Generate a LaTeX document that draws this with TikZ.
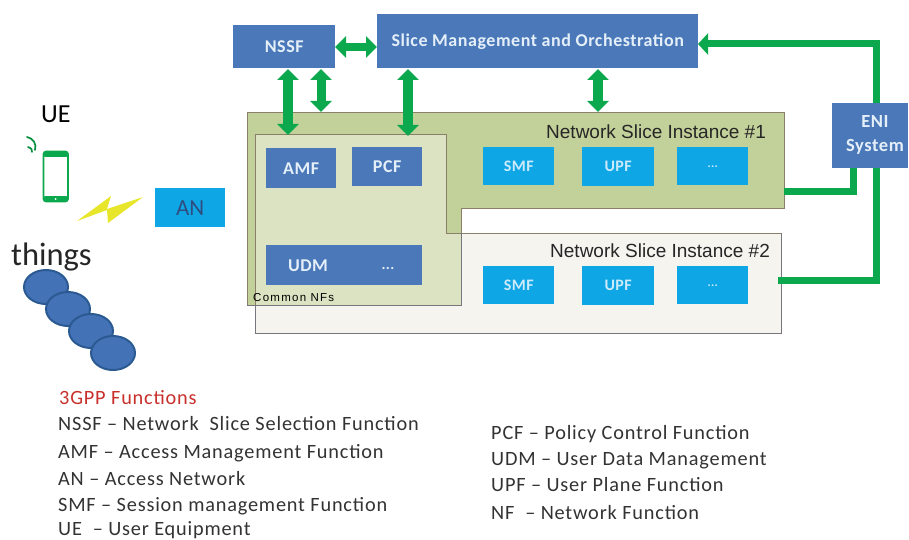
\documentclass[tikz,border=0pt]{standalone}
\usepackage{fontspec}
\setmainfont{Carlito}
\newfontfamily\arialf{Liberation Sans}
\newfontfamily\legendf[LetterSpace=4]{Carlito}
\newfontfamily\smallf[LetterSpace=11]{Liberation Sans}
\newfontfamily\boxf[LetterSpace=3]{Carlito}
\usetikzlibrary{arrows.meta,shapes.geometric}
\definecolor{bluebox}{HTML}{4A78B8}
\definecolor{cyanbox}{HTML}{0FA6E6}
\definecolor{arrgreen}{HTML}{0BA84E}
\definecolor{olive}{HTML}{C2D09A}
\definecolor{lightolive}{HTML}{DCE3C2}
\definecolor{paleslice}{HTML}{F6F4EF}
\definecolor{edgebrown}{HTML}{8A7F68}
\definecolor{edgegrey}{HTML}{77767C}
\definecolor{bluetxt}{HTML}{E4EFF9}
\definecolor{cyantxt}{HTML}{CDEBFA}
\definecolor{thingblue}{HTML}{4472B6}
\definecolor{thingedge}{HTML}{2B5A92}
\definecolor{legred}{HTML}{C8302C}
\definecolor{legtxt}{HTML}{333333}
\definecolor{bolt}{HTML}{E8E62A}
\definecolor{antxt}{HTML}{2F4C80}
\tikzset{
 x=1pt,y=-1pt,
 bbox/.style={fill=bluebox,text=bluetxt,font=\boxf\bfseries\fontsize{18}{20}\selectfont,inner sep=0pt,anchor=north west},
 cbox/.style={fill=cyanbox,text=cyantxt,font=\boxf\bfseries\fontsize{16}{18}\selectfont,inner sep=0pt,anchor=north west},
 biarrow/.style={arrgreen,line width=#1,{Triangle[length=11pt,width=21pt]}-{Triangle[length=11pt,width=21pt]}},
 biarrow/.default=10.5pt,
 oneway/.style={arrgreen,line width=7pt,-{Triangle[length=10pt,width=21pt]}},
 plainlink/.style={arrgreen,line width=7pt},
 slicelabel/.style={font=\arialf\fontsize{19}{21}\selectfont,text=black!85,anchor=base west,inner sep=0pt},
 legend/.style={font=\legendf\fontsize{20.3}{22}\selectfont,text=legtxt,anchor=base west,inner sep=0pt},
 thing/.style={ellipse,draw=thingedge,line width=2pt,fill=thingblue,minimum width=44pt,minimum height=34pt,inner sep=0pt},
}
\begin{document}
\begin{tikzpicture}
\useasboundingbox (0,0) rectangle (909,540);
\fill[white] (0,0) rectangle (909,540);

% slice regions
\draw[edgegrey,line width=1pt,fill=paleslice] (255,233) rectangle (781,333);
\draw[edgebrown,line width=1pt,fill=olive] (247,113) -- (784,113) -- (784,208) -- (461,208) -- (461,305) -- (247,305) -- cycle;
\fill[lightolive] (255,135) -- (446,135) -- (446,233) -- (461,233) -- (461,305) -- (255,305) -- cycle;
\draw[edgebrown,line width=1pt] (255,305) -- (255,135) -- (446,135) -- (446,233) -- (781,233);
\draw[edgegrey,line width=1pt] (247,305) -- (461,305) -- (461,233);

% boxes
\node[bbox,minimum width=102pt,minimum height=43pt] (nssf) at (233,25) {NSSF};
\node[bbox,minimum width=321pt,minimum height=54pt] (smo) at (377,14) {\fontsize{18}{20}\selectfont Slice Management and Orchestration};
\node[bbox,minimum width=76pt,minimum height=65pt,align=center] (eni) at (832,103) {};
\node[font=\boxf\bfseries\fontsize{18.5}{22}\selectfont,text=bluetxt,align=center,inner sep=0pt] (enitxt) at (875,135) {ENI\\[2pt]System};
\node[bbox,minimum width=70pt,minimum height=40pt] (amf) at (266,148) {AMF};
\node[bbox,minimum width=70pt,minimum height=39pt] (pcf) at (352,147) {PCF};
\node[bbox,minimum width=156pt,minimum height=40pt] (udm) at (266,245) {};
\node[font=\boxf\bfseries\fontsize{18}{20}\selectfont,text=bluetxt,inner sep=0pt] (udmtxt) at (308,266) {UDM};
\node[font=\boxf\bfseries\fontsize{15}{16}\selectfont,text=bluetxt,inner sep=0pt] (udmdots) at (388,268) {...};
\node[cbox,minimum width=71pt,minimum height=38pt] (smfa) at (483,147) {SMF};
\node[cbox,minimum width=72pt,minimum height=39pt] (upfa) at (582,147) {UPF};
\node[cbox,minimum width=71pt,minimum height=38pt,font=\boxf\bfseries\fontsize{12}{14}\selectfont] (dotsa) at (677,147) {\raisebox{-3pt}{...}};
\node[cbox,minimum width=71pt,minimum height=38pt] (smfb) at (483,266) {SMF};
\node[cbox,minimum width=72pt,minimum height=39pt] (upfb) at (582,266) {UPF};
\node[cbox,minimum width=71pt,minimum height=38pt,font=\boxf\bfseries\fontsize{12}{14}\selectfont] (dotsb) at (677,266) {\raisebox{-3pt}{...}};
\node[fill=cyanbox,text=antxt,font=\fontsize{23}{25}\selectfont,minimum width=70pt,minimum height=39pt,inner sep=0pt,anchor=north west] (an) at (155,188) {AN};

% labels
\node[slicelabel] (nsione) at (546,139) {Network Slice Instance \#1};
\node[slicelabel] (nsitwo) at (550,257) {Network Slice Instance \#2};
\node[font=\smallf\fontsize{11.5}{13}\selectfont,text=black,anchor=base west,inner sep=0pt] (common) at (253,301) {Common NFs};
\node[font=\fontsize{26}{28}\selectfont,text=black,anchor=base west,inner sep=0pt] (ue) at (41,123) {UE};
\node[font=\fontsize{32.5}{35}\selectfont,text=black!85,anchor=base west,inner sep=0pt] (things) at (11,265) {things};

% connector ends
\coordinate (nssfw) at (335,47); \coordinate (smow) at (377,47);
\coordinate (nssfa) at (288,69); \coordinate (amfin) at (288,135);
\coordinate (nssfb) at (321,69); \coordinate (nsiin) at (321,112);
\coordinate (smoa) at (408,69); \coordinate (pcfin) at (408,136);
\coordinate (smob) at (598,69); \coordinate (nsiinb) at (598,112);
\coordinate (smoe) at (698,44); \coordinate (enitop) at (876,103);
\coordinate (enibota) at (853,168); \coordinate (nsiout) at (784,191);
\coordinate (enibotb) at (876,168); \coordinate (nsibout) at (778,280);

\draw[biarrow=8pt] (nssfw) -- (smow);
\draw[biarrow] (nssfa) -- (amfin);
\draw[biarrow=9pt] (nssfb) -- (nsiin);
\draw[biarrow] (smoa) -- (pcfin);
\draw[biarrow=9.5pt] (smob) -- (nsiinb);
\draw[oneway] (enitop) |- (smoe);
\draw[plainlink] (enibota) |- (nsiout);
\draw[plainlink] (enibotb) |- (nsibout);

% phone
\draw[arrgreen,line width=1.6pt,rounded corners=2.5pt,fill=white] (43.5,151.5) rectangle (68,201.5);
\fill[arrgreen,rounded corners=2pt] (43.5,151.5) rectangle (68,157);
\fill[arrgreen,rounded corners=2pt] (43.5,196) rectangle (68,201.5);
\fill[white] (55.7,199) circle (1pt);
\draw[arrgreen!85!black,line width=1.7pt,line cap=round] (27,137) .. controls (33,138) and (37,144) .. (35,150);
\draw[arrgreen!85!black,line width=1.7pt,line cap=round] (28,147) .. controls (31,148) and (33,150) .. (32,152);

% bolt
\fill[bolt] (77,221) -- (111,196) -- (107,209) -- (143,197) -- (108,223) -- (107,210) -- cycle;

% things
\node[thing] (t1) at (46,287) {};
\node[thing] (t2) at (68,309) {};
\node[thing] (t3) at (91,331) {};
\node[thing] (t4) at (113,353) {};

% legend
\node[legend,text=legred] (l0) at (59,404) {3GPP Functions};
\node[legend] (l1) at (58,430) {NSSF – Network\ \ Slice Selection Function};
\node[legend] (l2) at (58,458) {AMF – Access Management Function};
\node[legend] (l3) at (58,485) {AN – Access Network};
\node[legend] (l4) at (58,511) {SMF – Session management Function};
\node[legend] (l5) at (58,535.5) {UE \ – User Equipment};
\node[legend] (r1) at (491,439) {PCF – Policy Control Function};
\node[legend] (r2) at (491,465) {UDM – User Data Management};
\node[legend] (r3) at (491,491) {UPF – User Plane Function};
\node[legend] (r4) at (491,519) {NF \ – Network Function};
\end{tikzpicture}
\end{document}
